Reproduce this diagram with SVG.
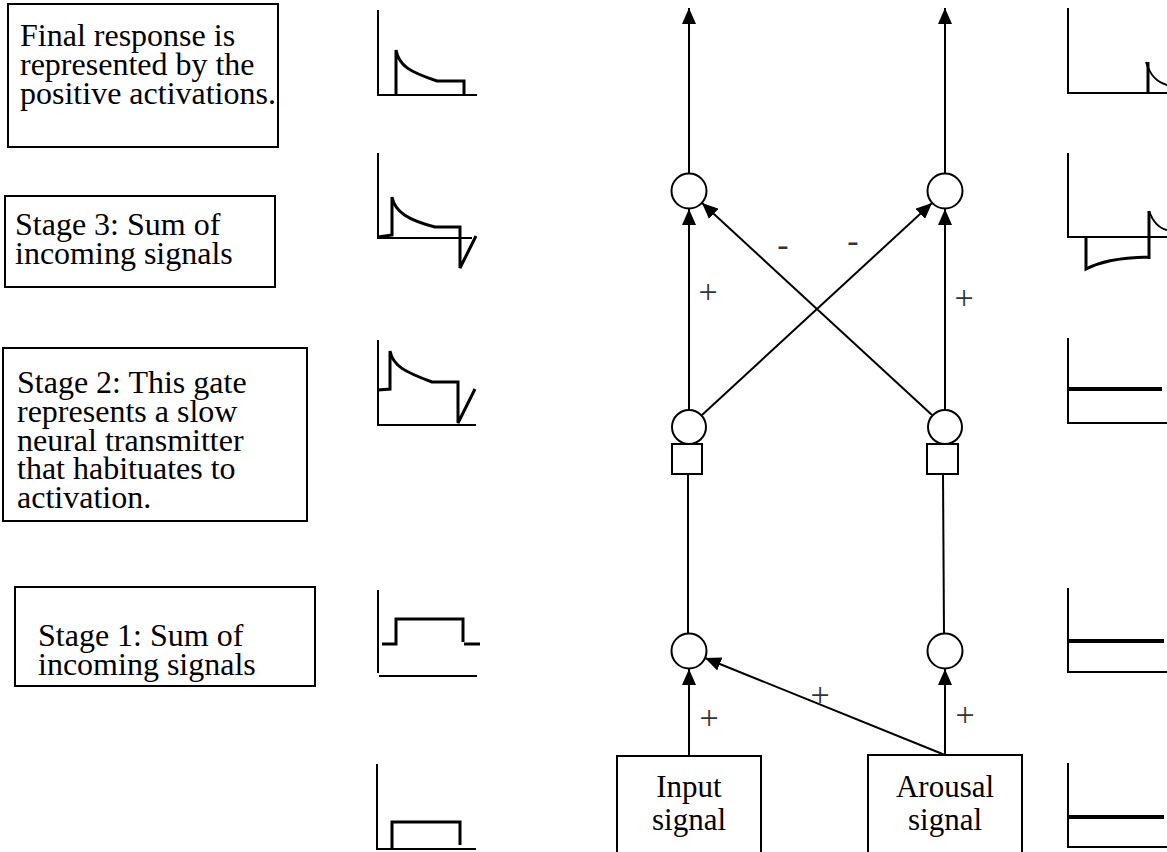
<svg xmlns="http://www.w3.org/2000/svg" width="1167" height="852" viewBox="0 0 1167 852">
  <style>
    .box { fill: #fff; stroke: #000; stroke-width: 2; }
    .node { fill: #fff; stroke: #000; stroke-width: 2; }
    .wire { fill: none; stroke: #000; stroke-width: 2; }
    .axis { fill: none; stroke: #000; stroke-width: 2; }
    .sig { fill: none; stroke: #000; stroke-width: 3; stroke-linejoin: miter; }
    .txt { font-family: "Liberation Serif", "Times New Roman", serif; font-size: 32px; fill: #000; }
    .big { font-family: "Liberation Serif", "Times New Roman", serif; font-size: 31px; fill: #000; text-anchor: middle; }
    .sign { font-family: "Liberation Serif", "Times New Roman", serif; font-size: 34px; fill: #333; text-anchor: middle; }
  </style>
  <defs>
    <marker id="arrow" markerUnits="userSpaceOnUse" markerWidth="16" markerHeight="14" refX="16" refY="7" orient="auto">
      <path d="M0,0 L16,7 L0,14 Z" fill="#000"/>
    </marker>
  </defs>
  <rect width="1167" height="852" fill="#fff"/>

  <!-- stage descriptions -->
  <g id="note-final">
    <rect class="box" x="8" y="4" width="270" height="143"/>
    <text class="txt" x="20" y="46">Final response is</text>
    <text class="txt" x="20" y="75">represented by the</text>
    <text class="txt" x="20" y="104">positive activations.</text>
  </g>
  <g id="note-stage3">
    <rect class="box" x="5" y="196" width="270" height="91"/>
    <text class="txt" x="15" y="235">Stage 3: Sum of</text>
    <text class="txt" x="15" y="264">incoming signals</text>
  </g>
  <g id="note-stage2">
    <rect class="box" x="3" y="348" width="304" height="173"/>
    <text class="txt" x="17" y="393">Stage 2: This gate</text>
    <text class="txt" x="17" y="422">represents a slow</text>
    <text class="txt" x="17" y="451">neural transmitter</text>
    <text class="txt" x="17" y="479">that habituates to</text>
    <text class="txt" x="17" y="508">activation.</text>
  </g>
  <g id="note-stage1">
    <rect class="box" x="15" y="587" width="300" height="99"/>
    <text class="txt" x="38" y="646">Stage 1: Sum of</text>
    <text class="txt" x="38" y="675">incoming signals</text>
  </g>

  <!-- left-channel signal traces -->
  <g id="plot-left-out">
    <path class="axis" d="M378,10 V95 H477"/>
    <path class="sig" d="M396,95 V50 C399,66 410,72 437,81 H464 V95"/>
  </g>
  <g id="plot-left-stage3">
    <path class="axis" d="M378,153 V238 H472"/>
    <path class="sig" d="M378,237 L392,235 V197 C395,212 408,220 435,227 H460 V268 L476,236"/>
  </g>
  <g id="plot-left-stage2">
    <path class="axis" d="M378,340 V425 H476"/>
    <path class="sig" d="M378,390 L390,389 V351 C393,366 405,372 432,382 H458 V423 L475,389"/>
  </g>
  <g id="plot-left-stage1">
    <path class="axis" d="M378,590 V673 M379,676 H477"/>
    <path class="sig" d="M382,644 H396 V619 H463 V642 M464,644 H480"/>
  </g>
  <g id="plot-left-input">
    <path class="axis" d="M377,764 V849 H476"/>
    <path class="sig" d="M392,849 V822 H460 V845"/>
  </g>

  <!-- right-channel signal traces -->
  <g id="plot-right-out">
    <path class="axis" d="M1068,8 V93 H1167"/>
    <path class="sig" d="M1148,93 V62"/>
    <path class="wire" d="M1146,62 C1150,75 1156,82 1167,85"/>
  </g>
  <g id="plot-right-stage3">
    <path class="axis" d="M1068,153 V237 H1167"/>
    <path class="sig" d="M1086,237 V269 C1100,262 1115,258 1149,257 M1149,259 V211"/>
    <path class="wire" d="M1149,211 C1153,222 1158,228 1167,230"/>
  </g>
  <g id="plot-right-stage2">
    <path class="axis" d="M1068,338 V423 H1167"/>
    <path class="sig" d="M1068,389 H1162" style="stroke-width:4"/>
  </g>
  <g id="plot-right-stage1">
    <path class="axis" d="M1068,588 V672 H1167"/>
    <path class="sig" d="M1069,641 H1164" style="stroke-width:4"/>
  </g>
  <g id="plot-right-input">
    <path class="axis" d="M1068,763 V847 H1167"/>
    <path class="sig" d="M1069,817 H1164" style="stroke-width:4"/>
  </g>

  <!-- connectors -->
  <g id="connectors">
    <line class="wire" x1="689" y1="173" x2="689" y2="8" marker-end="url(#arrow)"/>
    <line class="wire" x1="945" y1="173" x2="945" y2="8" marker-end="url(#arrow)"/>
    <line class="wire" x1="689" y1="410" x2="689" y2="209" marker-end="url(#arrow)"/>
    <line class="wire" x1="945" y1="410" x2="945" y2="209" marker-end="url(#arrow)"/>
    <line class="wire" x1="702" y1="415" x2="932" y2="203" marker-end="url(#arrow)"/>
    <line class="wire" x1="932" y1="415" x2="702" y2="203" marker-end="url(#arrow)"/>
    <line class="wire" x1="688" y1="474" x2="688" y2="634"/>
    <line class="wire" x1="943" y1="474" x2="944" y2="634"/>
    <line class="wire" x1="689" y1="756" x2="689" y2="669" marker-end="url(#arrow)"/>
    <line class="wire" x1="945" y1="755" x2="945" y2="669" marker-end="url(#arrow)"/>
    <line class="wire" x1="945" y1="755" x2="705" y2="658" marker-end="url(#arrow)"/>
    <text class="sign" x="708" y="303">+</text>
    <text class="sign" x="964" y="309">+</text>
    <text class="sign" x="783" y="256">-</text>
    <text class="sign" x="853" y="252">-</text>
    <text class="sign" x="709" y="729">+</text>
    <text class="sign" x="820" y="706">+</text>
    <text class="sign" x="965" y="726">+</text>
  </g>

  <!-- summing nodes and gates -->
  <g id="sum-out-left"><circle class="node" cx="689" cy="191" r="17.5"/></g>
  <g id="sum-out-right"><circle class="node" cx="945" cy="191" r="17.5"/></g>
  <g id="gate-left">
    <circle class="node" cx="689" cy="427" r="17"/>
    <rect class="node" x="672" y="444" width="30" height="30"/>
  </g>
  <g id="gate-right">
    <circle class="node" cx="945" cy="427" r="17"/>
    <rect class="node" x="927" y="444" width="31" height="30"/>
  </g>
  <g id="sum-in-left"><circle class="node" cx="689" cy="651" r="17.5"/></g>
  <g id="sum-in-right"><circle class="node" cx="945" cy="651" r="17.5"/></g>

  <!-- signal sources -->
  <g id="input-signal">
    <rect class="box" x="617" y="756" width="144" height="110"/>
    <text class="big" x="689" y="797">Input</text>
    <text class="big" x="689" y="830">signal</text>
  </g>
  <g id="arousal-signal">
    <rect class="box" x="868" y="755" width="154" height="110"/>
    <text class="big" x="945" y="797">Arousal</text>
    <text class="big" x="945" y="830">signal</text>
  </g>
</svg>
